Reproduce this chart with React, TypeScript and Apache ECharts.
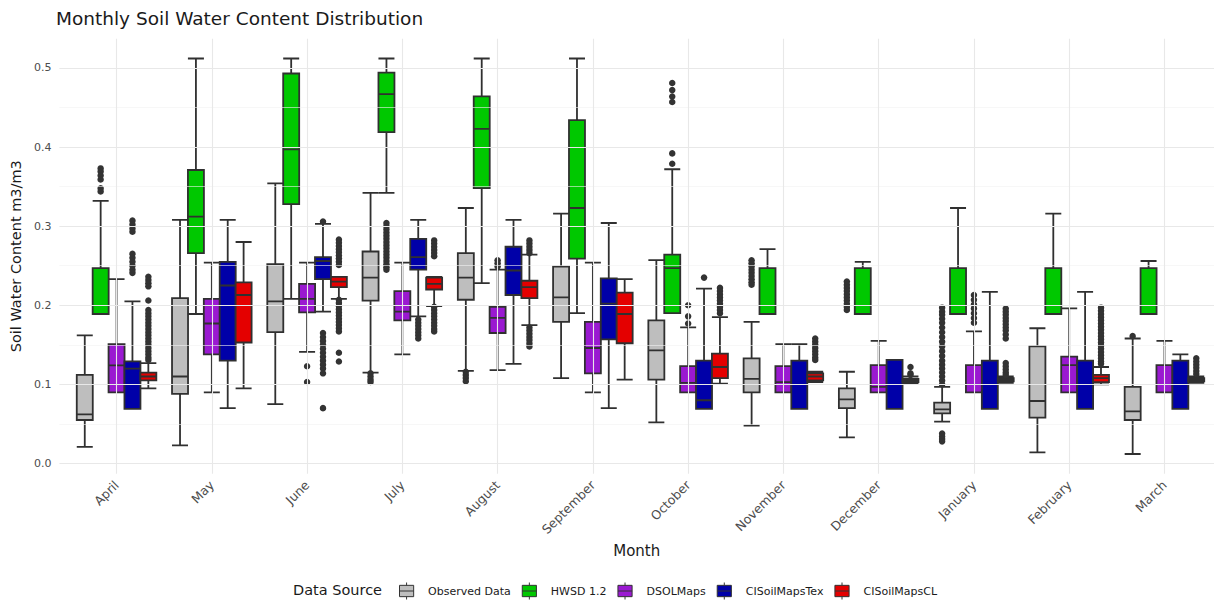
import React, { useEffect, useRef } from "react";
import * as echarts from "echarts";

const MONTHS = ["April", "May", "June", "July", "August", "September", "October", "November", "December", "January", "February", "March"];
const SOURCES = ["Observed Data", "HWSD 1.2", "DSOLMaps", "CISoilMapsTex", "CISoilMapsCL"];
const COLORS = ["#bebebe", "#00c800", "#9a19d1", "#0000a8", "#e40000"];
const Y_TICKS = [0, 0.1, 0.2, 0.3, 0.4, 0.5];
const Y_MINOR = [0.05, 0.15, 0.25, 0.35, 0.45];

// [min, Q1, median, Q3, max] per month
const observedBoxes = [
  [0.021, 0.055, 0.062, 0.112, 0.162],
  [0.023, 0.088, 0.11, 0.209, 0.308],
  [0.075, 0.166, 0.205, 0.252, 0.354],
  [0.115, 0.206, 0.235, 0.268, 0.342],
  [0.117, 0.207, 0.235, 0.266, 0.323],
  [0.108, 0.179, 0.21, 0.249, 0.316],
  [0.052, 0.106, 0.143, 0.181, 0.257],
  [0.048, 0.09, 0.107, 0.133, 0.179],
  [0.033, 0.07, 0.081, 0.095, 0.116],
  [0.053, 0.0635, 0.0685, 0.077, 0.097],
  [0.014, 0.058, 0.079, 0.148, 0.171],
  [0.012, 0.055, 0.066, 0.097, 0.158],
];
const hwsdBoxes = [
  [0.189, 0.189, 0.247, 0.247, 0.332],
  [0.189, 0.266, 0.312, 0.371, 0.512],
  [0.208, 0.328, 0.397, 0.493, 0.512],
  [0.342, 0.419, 0.467, 0.494, 0.512],
  [0.228, 0.348, 0.423, 0.464, 0.512],
  [0.19, 0.259, 0.323, 0.434, 0.512],
  [0.19, 0.19, 0.247, 0.264, 0.372],
  [0.189, 0.189, 0.247, 0.247, 0.271],
  [0.189, 0.189, 0.247, 0.247, 0.255],
  [0.189, 0.189, 0.247, 0.247, 0.323],
  [0.189, 0.189, 0.247, 0.247, 0.316],
  [0.189, 0.189, 0.247, 0.247, 0.256],
];
const dsolBoxes = [
  [0.09, 0.09, 0.124, 0.151, 0.233],
  [0.09, 0.138, 0.177, 0.208, 0.254],
  [0.141, 0.191, 0.208, 0.227, 0.254],
  [0.138, 0.181, 0.192, 0.218, 0.254],
  [0.118, 0.165, 0.184, 0.198, 0.245],
  [0.09, 0.114, 0.146, 0.179, 0.254],
  [0.09, 0.09, 0.102, 0.123, 0.172],
  [0.09, 0.09, 0.103, 0.123, 0.151],
  [0.09, 0.09, 0.097, 0.1245, 0.155],
  [0.09, 0.09, 0.09, 0.1245, 0.167],
  [0.09, 0.09, 0.1245, 0.135, 0.196],
  [0.09, 0.09, 0.09, 0.1245, 0.155],
];
const texBoxes = [
  [0.069, 0.069, 0.12, 0.129, 0.205],
  [0.07, 0.13, 0.225, 0.255, 0.308],
  [0.192, 0.233, 0.256, 0.261, 0.303],
  [0.186, 0.245, 0.261, 0.284, 0.308],
  [0.126, 0.213, 0.244, 0.274, 0.308],
  [0.07, 0.157, 0.202, 0.234, 0.304],
  [0.069, 0.069, 0.08, 0.13, 0.221],
  [0.069, 0.069, 0.069, 0.13, 0.151],
  [0.069, 0.069, 0.069, 0.131, 0.131],
  [0.069, 0.069, 0.069, 0.13, 0.217],
  [0.069, 0.069, 0.069, 0.13, 0.217],
  [0.069, 0.069, 0.069, 0.13, 0.138],
];
const clBoxes = [
  [0.095, 0.105, 0.11, 0.115, 0.127],
  [0.095, 0.153, 0.213, 0.229, 0.28],
  [0.208, 0.223, 0.23, 0.236, 0.236],
  [0.199, 0.22, 0.227, 0.235, 0.236],
  [0.175, 0.209, 0.223, 0.231, 0.264],
  [0.106, 0.152, 0.189, 0.216, 0.233],
  [0.101, 0.108, 0.122, 0.139, 0.185],
  [0.103, 0.105, 0.11, 0.114, 0.116],
  [0.101, 0.103, 0.105, 0.107, 0.11],
  [0.102, 0.104, 0.106, 0.108, 0.11],
  [0.1, 0.103, 0.108, 0.112, 0.122],
  [0.102, 0.104, 0.106, 0.108, 0.11],
];

// outliers per month
const observedOutliers = [
  [], [], [],
  [0.114, 0.11, 0.106, 0.103],
  [0.116, 0.112, 0.108, 0.104],
  [], [],
  [0.257, 0.253, 0.249, 0.245, 0.241, 0.237, 0.233, 0.229, 0.226],
  [0.23, 0.226, 0.222, 0.218, 0.214, 0.21, 0.206, 0.202, 0.198, 0.194],
  [0.197, 0.192, 0.188, 0.183, 0.178, 0.172, 0.166, 0.16, 0.154, 0.148, 0.142, 0.136, 0.13, 0.125, 0.12, 0.115, 0.11, 0.105, 0.1, 0.038, 0.034, 0.031, 0.028],
  [],
  [0.161],
];
const hwsdOutliers = [
  [0.373, 0.369, 0.364, 0.359, 0.348, 0.344],
  [], [],
  [0.304, 0.3, 0.296, 0.292, 0.288, 0.284, 0.28, 0.276, 0.272, 0.268, 0.264, 0.26, 0.256, 0.252, 0.248, 0.245],
  [], [],
  [0.481, 0.472, 0.464, 0.457, 0.392, 0.379],
  [], [], [], [], [],
];
const dsolOutliers = [
  [], [],
  [0.123, 0.103],
  [],
  [0.257, 0.253, 0.249],
  [],
  [0.2, 0.186, 0.177],
  [], [],
  [0.213, 0.207, 0.201, 0.196, 0.19, 0.184, 0.178],
  [], [],
];
const texOutliers = [
  [0.307, 0.302, 0.297, 0.293, 0.265, 0.26, 0.255, 0.25, 0.245, 0.241],
  [],
  [0.306, 0.165, 0.16, 0.155, 0.15, 0.145, 0.14, 0.135, 0.13, 0.125, 0.12, 0.114, 0.07],
  [0.182, 0.178, 0.174, 0.17, 0.166, 0.162, 0.158],
  [], [],
  [0.235],
  [], [], [], [], [],
];
const clOutliers = [
  [0.236, 0.232, 0.228, 0.224, 0.206, 0.194, 0.19, 0.186, 0.182, 0.178, 0.174, 0.17, 0.166, 0.162, 0.158, 0.154, 0.15, 0.146, 0.142, 0.138, 0.134, 0.131],
  [],
  [0.283, 0.279, 0.275, 0.271, 0.267, 0.263, 0.259, 0.255, 0.251, 0.207, 0.203, 0.199, 0.195, 0.191, 0.187, 0.183, 0.179, 0.175, 0.171, 0.167, 0.14, 0.129],
  [0.282, 0.278, 0.274, 0.27, 0.266, 0.262, 0.198, 0.194, 0.19, 0.186, 0.182, 0.178, 0.174, 0.17, 0.167],
  [0.282, 0.278, 0.274, 0.27, 0.266, 0.172, 0.168, 0.164, 0.16, 0.156, 0.152, 0.148],
  [],
  [0.222, 0.218, 0.214, 0.21, 0.206, 0.202, 0.198, 0.194, 0.19],
  [0.158, 0.154, 0.15, 0.146, 0.142, 0.138, 0.134, 0.131],
  [0.122, 0.114, 0.112],
  [0.196, 0.192, 0.188, 0.184, 0.18, 0.176, 0.172, 0.168, 0.163, 0.158, 0.127, 0.123, 0.119, 0.115, 0.112],
  [0.197, 0.193, 0.189, 0.185, 0.181, 0.177, 0.173, 0.169, 0.165, 0.161, 0.157, 0.153, 0.149, 0.145, 0.141, 0.137, 0.133, 0.129, 0.126],
  [0.133, 0.129, 0.125, 0.121, 0.117, 0.113],
];

const BOXES = [observedBoxes, hwsdBoxes, dsolBoxes, texBoxes, clBoxes];
const OUTLIERS = [observedOutliers, hwsdOutliers, dsolOutliers, texOutliers, clOutliers];

const FONT = "DejaVu Sans";
const DODGE = 0.167; // fraction of a month band between neighbouring boxes

export default function App() {
  const ref = useRef<HTMLDivElement>(null);
  useEffect(() => {
    document.body.style.margin = "0";
    const chart = echarts.init(ref.current!, null, { renderer: "svg" });

    const gridLines: any[] = [
      ...Y_TICKS.map((v) => ({ yAxis: v, lineStyle: { color: "#e8e8e8", width: 1.1, type: "solid" } })),
      ...Y_MINOR.map((v) => ({ yAxis: v, lineStyle: { color: "#f2f2f2", width: 0.6, type: "solid" } })),
      ...MONTHS.map((_, i) => ({ xAxis: i, lineStyle: { color: "#e8e8e8", width: 1.1, type: "solid" } })),
    ];

    const boxSeries = SOURCES.map((name, k) => ({
      name,
      type: "boxplot",
      z: 3,
      boxWidth: [16, 16],
      data: BOXES[k].map((b, i) => [i, ...b]),
      itemStyle: { color: COLORS[k], borderColor: "#303030", borderWidth: 1.8 },
      emphasis: { disabled: true },
    }));

    const outlierData: number[][] = [];
    OUTLIERS.forEach((src, k) =>
      src.forEach((vals, i) => vals.forEach((v) => outlierData.push([i + (k - 2) * DODGE, v])))
    );

    chart.setOption({
      animation: false,
      title: {
        text: "Monthly Soil Water Content Distribution",
        left: 56,
        top: 9,
        padding: 0,
        textStyle: { fontFamily: FONT, fontSize: 18.5, fontWeight: "normal", color: "#1a1a1a" },
      },
      legend: {
        data: SOURCES.map((name, k) => ({
          name,
          itemStyle: { color: COLORS[k], borderColor: "#333333", borderWidth: 1 },
        })),
        left: 399,
        top: 582,
        itemWidth: 17,
        itemHeight: 17,
        itemGap: 11,
        padding: 0,
        icon: "path://M1,3L16,3L16,15L1,15Z M1,9L16,9 M8.5,0L8.5,3 M8.5,15L8.5,18",
        textStyle: { fontFamily: FONT, fontSize: 11, color: "#1a1a1a", padding: [0, 0, 0, 8] },
      },
      graphic: [
        {
          type: "text",
          left: 293,
          top: 582,
          style: { text: "Data Source", fontFamily: FONT, fontSize: 14.5, fill: "#1a1a1a" },
        },
      ],
      grid: { left: 56, right: 0, top: 38.7, bottom: 127.2 },
      xAxis: {
        type: "value",
        min: -0.6,
        max: 11.52,
        name: "Month",
        nameLocation: "middle",
        nameGap: 66,
        nameTextStyle: { fontFamily: FONT, fontSize: 15, color: "#1a1a1a" },
        axisLine: { show: false },
        axisTick: { show: false },
        splitLine: { show: false },
        axisLabel: {
          customValues: MONTHS.map((_, i) => i),
          formatter: (v: number) => MONTHS[Math.round(v)] ?? "",
          rotate: 45,
          margin: 9,
          fontFamily: FONT,
          fontSize: 12.5,
          color: "#4d4d4d",
        },
      },
      yAxis: {
        type: "value",
        min: -0.013,
        max: 0.537,
        name: "Soil Water Content m3/m3",
        nameLocation: "middle",
        nameGap: 28,
        nameTextStyle: { fontFamily: FONT, fontSize: 14.5, color: "#1a1a1a" },
        axisLine: { show: false },
        axisTick: { show: false },
        splitLine: { show: false },
        axisLabel: {
          customValues: Y_TICKS,
          formatter: (v: number) => v.toFixed(1),
          margin: 8,
          fontFamily: FONT,
          fontSize: 11,
          color: "#4d4d4d",
        },
      },
      series: [
        {
          name: "grid",
          type: "line",
          data: [],
          z: 0,
          silent: true,
          markLine: {
            silent: true,
            symbol: ["none", "none"],
            label: { show: false },
            animation: false,
            data: gridLines,
          },
        },
        ...boxSeries,
        {
          name: "outliers",
          type: "scatter",
          z: 4,
          symbolSize: 6.5,
          data: outlierData,
          itemStyle: { color: "#333333", opacity: 1 },
          emphasis: { disabled: true },
        },
      ],
    });
    return () => chart.dispose();
  }, []);
  return <div ref={ref} style={{ width: 1214, height: 601 }} />;
}
